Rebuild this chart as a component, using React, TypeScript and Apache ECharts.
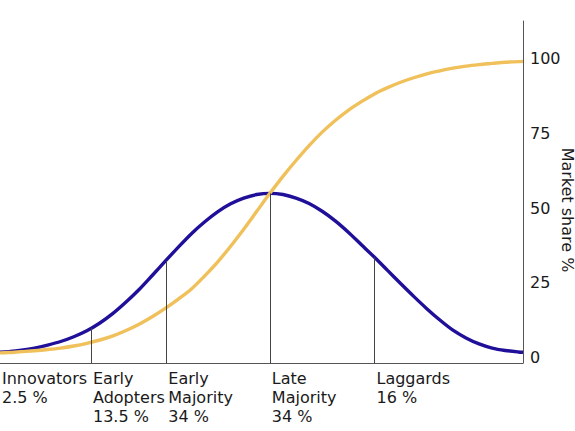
import { useEffect, useRef } from 'react'
import * as echarts from 'echarts'

// x in standard deviations from the mean
const xPoints = [
  -2.58, -2.5, -2.375, -2.25, -2.125, -2.0, -1.875, -1.75, -1.625, -1.5, -1.375, -1.25, -1.125,
  -1.0, -0.875, -0.75, -0.625, -0.5, -0.375, -0.25, -0.125, 0, 0.125, 0.25, 0.375, 0.5, 0.625,
  0.75, 0.875, 1.0, 1.125, 1.25, 1.375, 1.5, 1.625, 1.75, 1.875, 2.0, 2.125, 2.25, 2.375, 2.42
]
const adopters = [
  1.8, 2.0, 2.5, 3.2, 4.2, 5.4, 7.0, 9.0, 11.6, 14.8, 18.6, 22.8, 27.5,
  32.3, 37.0, 41.5, 45.4, 48.8, 51.5, 53.4, 54.6, 55.0, 54.6, 53.4, 51.6, 49.0, 45.8,
  42.0, 37.8, 33.6, 29.2, 24.8, 20.5, 16.4, 12.6, 9.2, 6.6, 4.6, 3.2, 2.4, 1.9, 1.8
]
const marketShare = [
  1.6, 1.7, 2.0, 2.3, 2.7, 3.2, 3.9, 4.8, 5.9, 7.3, 9.1, 11.2, 13.7,
  16.5, 19.6, 23.0, 27.3, 32.0, 37.3, 43.0, 49.0, 55.0, 60.7, 66.0, 71.0, 75.5, 79.4,
  82.8, 85.7, 88.3, 90.4, 92.2, 93.7, 95.0, 96.0, 96.9, 97.6, 98.1, 98.5, 98.9, 99.1, 99.2
]

// group boundaries (vertical lines) and where they meet the bell curve
const boundaryX = [-1.71, -0.99, 0, 1.0]
const boundaryTop = [9.9, 32.4, 55, 33.6]

const categoryStart = [-2.58, -1.71, -0.99, 0, 1.0]
const categoryNames = ['Innovators', 'Early\nAdopters', 'Early\nMajority', 'Late\nMajority', 'Laggards']
const categoryShares = ['2.5 %', '13.5 %', '34 %', '34 %', '16 %']

const yTicks = [0, 25, 50, 75, 100]

const X_MIN = -2.58
const X_MAX = 2.42
const Y_MIN = -1.8
const Y_MAX = 112.7

const FONT = 'DejaVu Sans'
const TEXT = '#1a1a1a'

export default function App() {
  const ref = useRef<HTMLDivElement | null>(null)

  useEffect(() => {
    if (!ref.current) return
    const chart = echarts.init(ref.current, undefined, { renderer: 'svg' })

    const option = {
      animation: false,
      backgroundColor: '#ffffff',
      grid: {
        left: 0,
        right: 52,
        top: 21,
        bottom: 68,
        containLabel: false,
        outerBoundsMode: 'none'
      },
      xAxis: {
        type: 'value',
        min: X_MIN,
        max: X_MAX,
        axisLine: { show: true, onZero: false, lineStyle: { color: '#555', width: 1 } },
        axisTick: { show: false },
        splitLine: { show: false },
        axisLabel: {
          customValues: categoryStart,
          showMinLabel: true,
          showMaxLabel: true,
          hideOverlap: false,
          align: 'left',
          verticalAlign: 'top',
          margin: 6,
          padding: [0, 0, 0, 2],
          fontFamily: FONT,
          fontSize: 16,
          lineHeight: 19,
          color: TEXT,
          formatter: (v: number) => {
            let best = 0
            categoryStart.forEach((c, i) => {
              if (Math.abs(c - v) < Math.abs(categoryStart[best] - v)) best = i
            })
            return categoryNames[best] + '\n' + categoryShares[best]
          }
        }
      },
      yAxis: {
        type: 'value',
        position: 'right',
        min: Y_MIN,
        max: Y_MAX,
        name: 'Market share %',
        nameLocation: 'middle',
        nameRotate: -90,
        nameGap: 36,
        nameMoveOverlap: false,
        nameTextStyle: { fontFamily: FONT, fontSize: 16, color: TEXT, padding: [0, 0, 0, 36] },
        axisLine: { show: true, onZero: false, lineStyle: { color: '#555', width: 1 } },
        axisTick: { show: false },
        splitLine: { show: false },
        axisLabel: {
          customValues: yTicks,
          margin: 7,
          fontFamily: FONT,
          fontSize: 16,
          color: TEXT
        }
      },
      series: [
        {
          type: 'line',
          name: 'Adopters',
          data: xPoints.map((x, i) => [x, adopters[i]]),
          smooth: 0.3,
          showSymbol: false,
          lineStyle: { color: '#1f0f99', width: 3.4 },
          z: 3,
          markLine: {
            silent: true,
            symbol: ['none', 'none'],
            label: { show: false },
            lineStyle: { color: '#444', width: 1, type: 'solid' },
            data: boundaryX.map((x, i) => [
              { coord: [x, Y_MIN] },
              { coord: [x, boundaryTop[i]] }
            ])
          }
        },
        {
          type: 'line',
          name: 'Market share',
          data: xPoints.map((x, i) => [x, marketShare[i]]),
          smooth: 0.3,
          showSymbol: false,
          lineStyle: { color: '#f0c05a', width: 3.4 },
          z: 4
        }
      ]
    }

    chart.setOption(option)
    return () => chart.dispose()
  }, [])

  return (
    <div
      ref={ref}
      style={{ position: 'absolute', left: 0, top: 0, width: 575, height: 431 }}
    />
  )
}
